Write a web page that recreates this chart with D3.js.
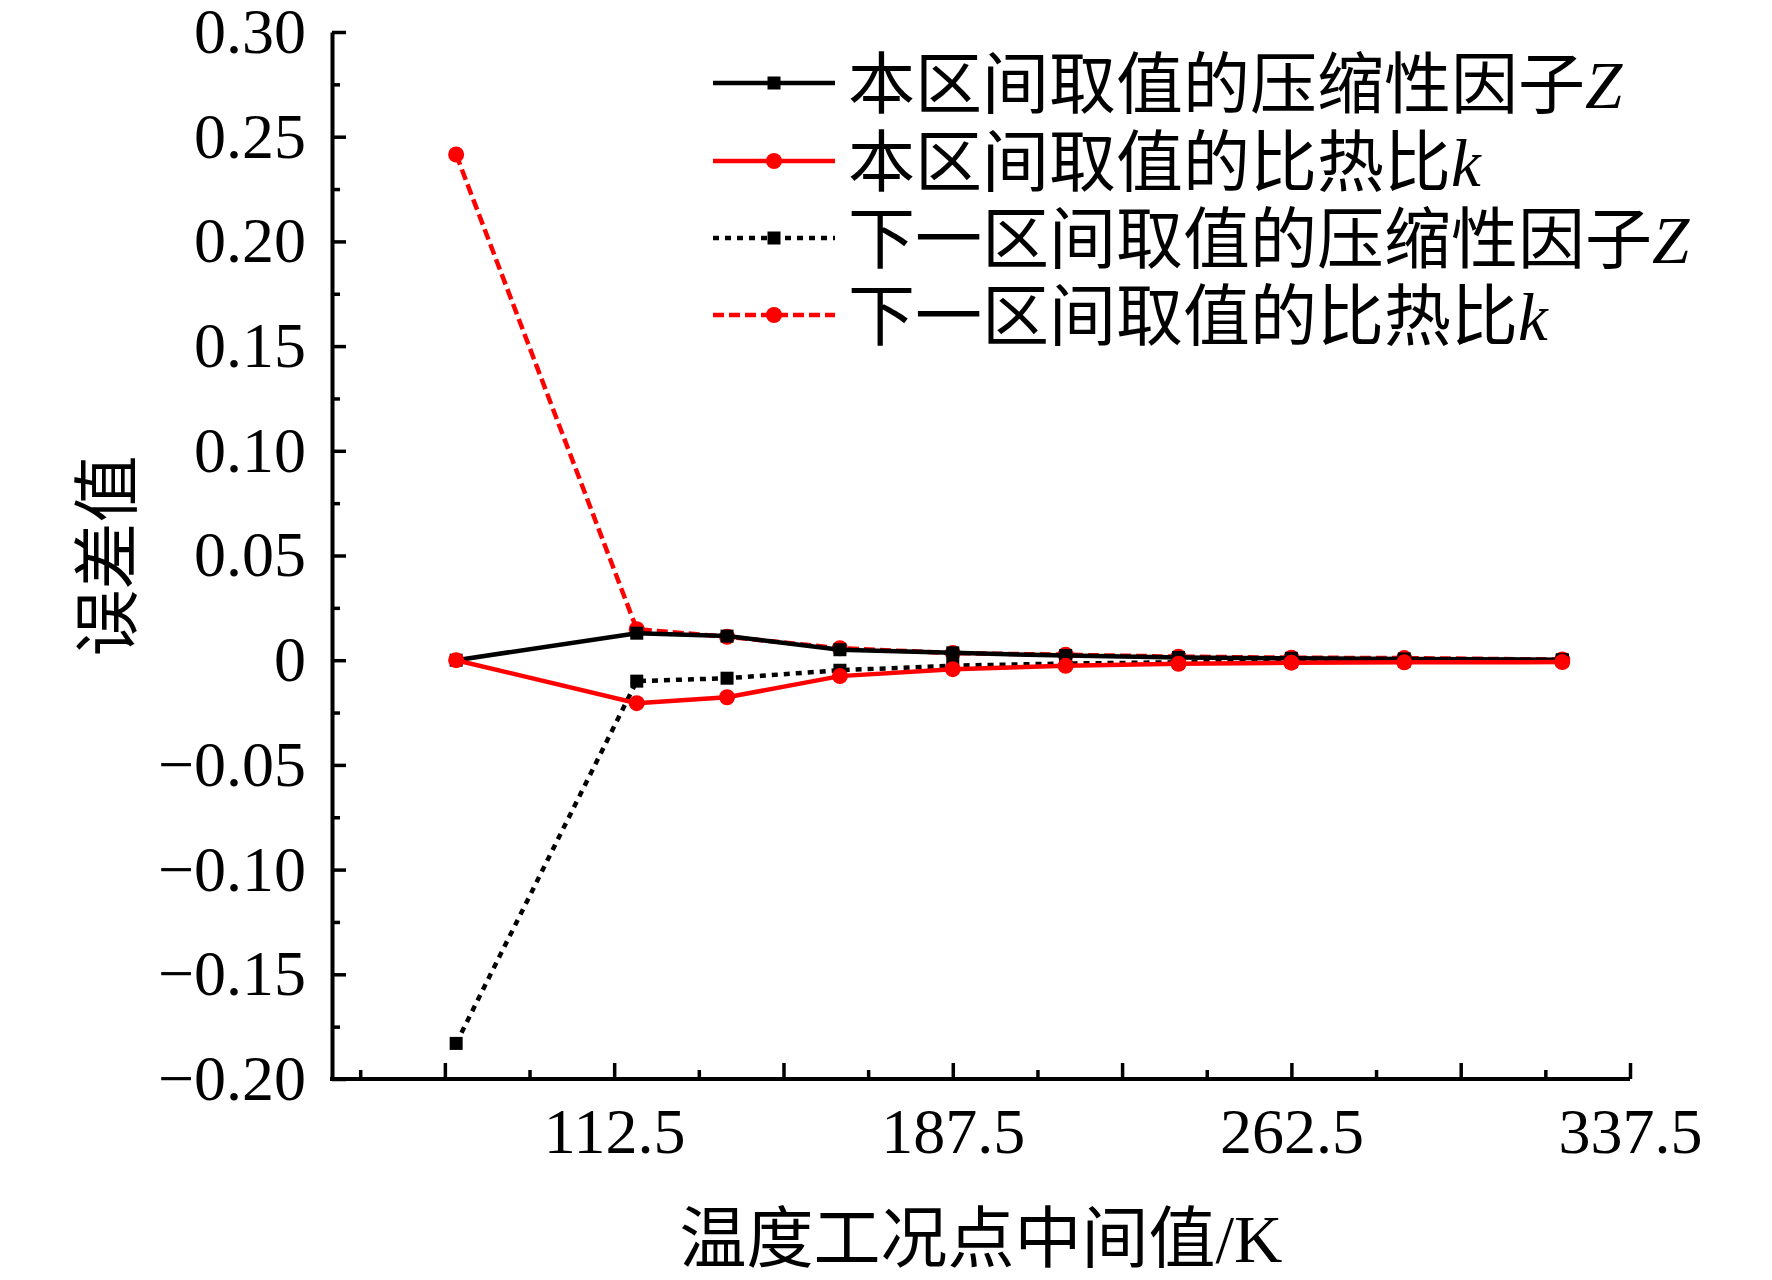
<!DOCTYPE html>
<html>
<head>
<meta charset="utf-8">
<script src="https://cdn.jsdelivr.net/npm/d3@7"></script>
<style>
  html, body { margin: 0; padding: 0; background: #fff; }
  svg { display: block; }
</style>
</head>
<body>
<svg id="chart" width="1772" height="1280"></svg>
<script>
// ---- data ----
const xVals = [77.5, 117.5, 137.5, 162.5, 187.5, 212.5, 237.5, 262.5, 287.5, 322.5];
const zCurrent = [0, 0.0129, 0.0115, 0.0050, 0.0035, 0.0022, 0.0013, 0.0009, 0.0006, 0.0002];
const kCurrent = [0, -0.0205, -0.0177, -0.0076, -0.0043, -0.0027, -0.0017, -0.0012, -0.0010, -0.0009];
const zNext = [-0.183, -0.0100, -0.0086, -0.0048, -0.0026, -0.0016, -0.0010, -0.0007, -0.0004, 0.0000];
const kNext = [0.2415, 0.0148, 0.0112, 0.0057, 0.0034, 0.0026, 0.0017, 0.0012, 0.0010, 0.0003];

const seriesNames = [
  ["本区间取值的压缩性因子", "Z"],
  ["本区间取值的比热比", "k"],
  ["下一区间取值的压缩性因子", "Z"],
  ["下一区间取值的比热比", "k"]
];
const yTickValues = [-0.20, -0.15, -0.10, -0.05, 0, 0.05, 0.10, 0.15, 0.20, 0.25, 0.30];
const yMinorValues = [-0.175, -0.125, -0.075, -0.025, 0.025, 0.075, 0.125, 0.175, 0.225, 0.275];
const xMajorValues = [75, 112.5, 150, 187.5, 225, 262.5, 300, 337.5];
const xLabelValues = [112.5, 187.5, 262.5, 337.5];
const xMinorValues = [56.25, 93.75, 131.25, 168.75, 206.25, 243.75, 281.25, 318.75];
const xTitle = "温度工况点中间值/K";
const yTitle = "误差值";

// ---- layout ----
const svg = d3.select("#chart");
const serif = "'Liberation Serif','Times New Roman','Noto Sans CJK SC',serif";
const x = d3.scaleLinear().domain([50, 337.5]).range([332, 1630]);
const y = d3.scaleLinear().domain([-0.2, 0.3]).range([1079, 32]);

const fmt = v => {
  if (Math.abs(v) < 1e-9) return "0";
  const s = Math.abs(v).toFixed(2);
  return (v < 0 ? "\u2212" : "") + s;
};

// minor ticks y
svg.append("g").attr("transform", `translate(${x.range()[0]},0)`)
  .call(d3.axisLeft(y).tickValues(yMinorValues).tickSize(-8).tickFormat(""))
  .call(g => g.select(".domain").remove())
  .call(g => g.selectAll("line").attr("stroke-width", 3.5));

// major y axis
svg.append("g").attr("transform", `translate(${x.range()[0]},0)`)
  .call(d3.axisLeft(y).tickValues(yTickValues).tickSize(-14).tickSizeOuter(0).tickPadding(26).tickFormat(fmt))
  .call(g => g.select(".domain").attr("stroke-width", 4))
  .call(g => g.selectAll("line").attr("stroke-width", 3.5))
  .call(g => g.selectAll("text").attr("font-family", serif).attr("font-size", 64).attr("fill", "#000"));

// x minor ticks
svg.append("g").attr("transform", `translate(0,${y.range()[0]})`)
  .call(d3.axisBottom(x).tickValues(xMinorValues).tickSize(-9).tickFormat(""))
  .call(g => g.select(".domain").remove())
  .call(g => g.selectAll("line").attr("stroke-width", 3.5));

// x major ticks (no labels)
svg.append("g").attr("transform", `translate(0,${y.range()[0]})`)
  .call(d3.axisBottom(x).tickValues(xMajorValues).tickSize(-16).tickSizeOuter(0).tickFormat(""))
  .call(g => g.select(".domain").attr("stroke-width", 4).attr("d", `M${x.range()[0] - 2},0H${x.range()[1]}`))
  .call(g => g.selectAll("line").attr("stroke-width", 3.5));

// x labels
svg.append("g").attr("transform", `translate(0,${y.range()[0]})`)
  .call(d3.axisBottom(x).tickValues(xLabelValues).tickSize(0).tickPadding(29).tickFormat(d => d.toFixed(1)))
  .call(g => g.select(".domain").remove())
  .call(g => g.selectAll("text").attr("font-family", serif).attr("font-size", 64).attr("fill", "#000"));

// axis titles
svg.append("text")
  .attr("x", 981).attr("y", 1262)
  .attr("text-anchor", "middle")
  .attr("font-family", serif).attr("font-size", 67)
  .text(xTitle);

svg.append("text")
  .attr("transform", "translate(106,556) rotate(-90)")
  .attr("y", 25)
  .attr("text-anchor", "middle")
  .attr("font-family", serif).attr("font-size", 67)
  .text(yTitle);

// ---- series ----
const series = [
  { vals: kNext, color: "#ff0000", dash: "11,5", marker: "circle" },
  { vals: zNext, color: "#000000", dash: "6,6", marker: "square" },
  { vals: zCurrent, color: "#000000", dash: null, marker: "square" },
  { vals: kCurrent, color: "#ff0000", dash: null, marker: "circle" }
];
const line = d3.line().x(d => x(d[0])).y(d => y(d[1]));

series.forEach(s => {
  const pts = xVals.map((xv, i) => [xv, s.vals[i]]);
  svg.append("path").datum(pts)
    .attr("d", line)
    .attr("fill", "none")
    .attr("stroke", s.color)
    .attr("stroke-width", 4.5)
    .attr("stroke-dasharray", s.dash);
  const g = svg.append("g");
  if (s.marker === "circle") {
    g.selectAll("circle").data(pts).join("circle")
      .attr("cx", d => x(d[0])).attr("cy", d => y(d[1])).attr("r", 8)
      .attr("fill", s.color);
  } else {
    g.selectAll("rect").data(pts).join("rect")
      .attr("x", d => x(d[0]) - 6.5).attr("y", d => y(d[1]) - 6.5)
      .attr("width", 13).attr("height", 13)
      .attr("fill", s.color);
  }
});

// ---- legend ----
const legendStyles = [
  { color: "#000000", dash: null, marker: "square" },
  { color: "#ff0000", dash: null, marker: "circle" },
  { color: "#000000", dash: "6,6", marker: "square" },
  { color: "#ff0000", dash: "11,5", marker: "circle" }
];
const legendRows = [83, 161, 238, 315];
const lg = svg.append("g");
seriesNames.forEach((nm, i) => {
  const st = legendStyles[i];
  const cy = legendRows[i];
  lg.append("line")
    .attr("x1", 713).attr("x2", 835).attr("y1", cy).attr("y2", cy)
    .attr("stroke", st.color).attr("stroke-width", 4.5)
    .attr("stroke-dasharray", st.dash);
  if (st.marker === "circle") {
    lg.append("circle").attr("cx", 774).attr("cy", cy).attr("r", 8).attr("fill", st.color);
  } else {
    lg.append("rect").attr("x", 767.5).attr("y", cy - 6.5).attr("width", 13).attr("height", 13).attr("fill", st.color);
  }
  const t = lg.append("text")
    .attr("x", 848).attr("y", cy + 25)
    .attr("font-family", serif).attr("font-size", 67).attr("fill", "#000");
  t.append("tspan").text(nm[0]);
  t.append("tspan").attr("font-style", "italic").text(nm[1]);
});
</script>
</body>
</html>
